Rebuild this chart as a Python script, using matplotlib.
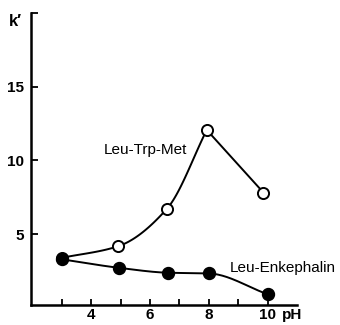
import numpy as np
import matplotlib
matplotlib.use("Agg")
import matplotlib.pyplot as plt

# Data
ph_enk = [3.0, 4.95, 6.6, 8.0, 10.0]
k_enk = [3.3, 2.72, 2.39, 2.34, 0.93]
ph_trp = [3.0, 4.92, 6.58, 7.93, 9.86]
k_trp = [3.4, 4.19, 6.74, 12.07, 7.82]
x_ticks = [4, 6, 8, 10]
x_minor = [3, 5, 7, 9]
y_ticks = [5, 10, 15, 20]
y_labels = ['5', '10', '15', '']


def pchip(xs, ys, n=40):
    """Shape-preserving cubic drawn through the given points (for the line only)."""
    x = np.asarray(xs, float); y = np.asarray(ys, float)
    h = np.diff(x); d = np.diff(y) / h
    m = np.zeros_like(y)
    for i in range(1, len(x) - 1):
        if d[i - 1] * d[i] > 0:
            w1 = 2 * h[i] + h[i - 1]; w2 = h[i] + 2 * h[i - 1]
            m[i] = (w1 + w2) / (w1 / d[i - 1] + w2 / d[i])
    m[0] = d[0]; m[-1] = d[-1]
    ox, oy = [], []
    t = np.linspace(0, 1, n)
    for i in range(len(x) - 1):
        h00 = 2 * t**3 - 3 * t**2 + 1; h10 = t**3 - 2 * t**2 + t
        h01 = -2 * t**3 + 3 * t**2; h11 = t**3 - t**2
        ox.extend(x[i] + t * h[i])
        oy.extend(h00 * y[i] + h10 * h[i] * m[i] + h01 * y[i + 1] + h11 * h[i] * m[i + 1])
    return ox, oy


plt.rcParams['font.family'] = ['Liberation Sans', 'DejaVu Sans']
fig = plt.figure(figsize=(3.4, 3.25), dpi=100)
ax = fig.add_axes([0.0912, 0.0615, 0.7823, 0.8985])

# Leu-Trp-Met: smooth up to peak, straight after
cx, cy = pchip(ph_trp[:4], k_trp[:4])
ax.plot(cx, cy, color='black', lw=1.4, zorder=2)
ax.plot(ph_trp[3:], k_trp[3:], color='black', lw=1.4, zorder=2)
ax.plot(ph_trp, k_trp, 'o', ms=8, mfc='white', mec='black', mew=1.4,
        ls='none', zorder=3)

# Leu-Enkephalin
ex, ey = pchip(ph_enk, k_enk)
ax.plot(ex, ey, color='black', lw=1.4, zorder=2)
ax.plot(ph_enk, k_enk, 'o', ms=8.6, mfc='black', mec='black',
        ls='none', zorder=4)

ax.set_xlim(1.95, 11.0)
ax.set_ylim(0.2, 20)
ax.spines['top'].set_visible(False)
ax.spines['right'].set_visible(False)
ax.spines['left'].set_linewidth(1.8)
ax.spines['bottom'].set_linewidth(1.8)

ax.set_xticks(x_ticks)
ax.set_xticks(x_minor, minor=True)
ax.set_yticks(y_ticks)
ax.set_yticklabels(y_labels)
ax.tick_params(axis='both', which='both', direction='in', width=1.3,
               labelsize=11)
ax.tick_params(axis='x', which='both', length=4, pad=2.5)
ax.tick_params(axis='y', which='both', length=5, pad=5)
for lab in ax.get_xticklabels() + ax.get_yticklabels():
    lab.set_fontweight('bold')

ax.annotate('pH', xy=(10.82, 0), xycoords=('data', 'axes fraction'),
            xytext=(0, -2.5), textcoords='offset points', ha='center',
            va='top', fontsize=11, fontweight='bold')
fig.text(15 / 340, 1 - 22 / 325, 'k′', fontsize=12, fontweight='bold',
         ha='center', va='center')

ax.text(5.83, 10.7, 'Leu-Trp-Met', fontsize=11, ha='center', va='center')
ax.text(10.5, 2.7, 'Leu-Enkephalin', fontsize=11, ha='center', va='center',
        clip_on=False)

fig.savefig('out.png', dpi=100)
